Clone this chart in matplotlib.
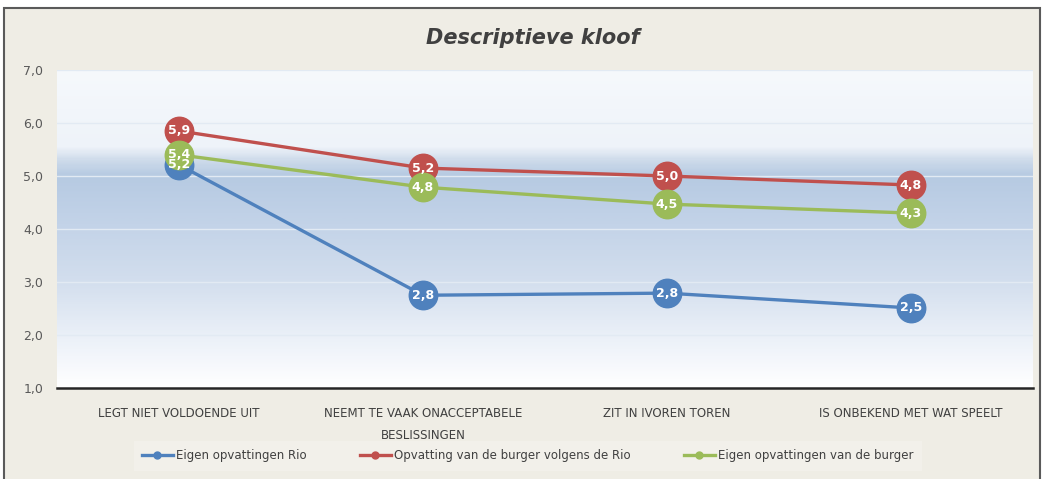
"""Descriptieve kloof - lijngrafiek met drie reeksen."""

import matplotlib
matplotlib.use("Agg")
import matplotlib.pyplot as plt
import numpy as np
from matplotlib.colors import LinearSegmentedColormap
from matplotlib.lines import Line2D
from matplotlib.patches import Rectangle

# Dati
categories = [
    "LEGT NIET VOLDOENDE UIT",
    "NEEMT TE VAAK ONACCEPTABELE\nBESLISSINGEN",
    "ZIT IN IVOREN TOREN",
    "IS ONBEKEND MET WAT SPEELT",
]
series_names = [
    "Eigen opvattingen Rio",
    "Opvatting van de burger volgens de Rio",
    "Eigen opvattingen van de burger",
]
rio_eigen = [5.21, 2.75, 2.79, 2.51]
burger_volgens_rio = [5.85, 5.15, 5.00, 4.83]
burger_eigen = [5.40, 4.79, 4.47, 4.30]
labels_rio = ["5,2", "2,8", "2,8", "2,5"]
labels_volgens = ["5,9", "5,2", "5,0", "4,8"]
labels_burger = ["5,4", "4,8", "4,5", "4,3"]
yticks = [1, 2, 3, 4, 5, 6, 7]

colors = ["#4F81BD", "#C0504D", "#9BBB59"]
bg = "#EFEDE5"
narrow = ["Liberation Sans Narrow", "DejaVu Sans"]

fig = plt.figure(figsize=(10.45, 4.79), dpi=100, facecolor="white")
W, H = 1045, 479

# cornice esterna (dietro agli assi), tagliata in basso
fig.patches.append(Rectangle((4 / W, -0.05), 1036 / W, 1.05 - 8 / H, transform=fig.transFigure,
                             facecolor=bg, edgecolor="#5A5A5A", linewidth=1.5, zorder=-10))

ax = fig.add_axes([57 / W, 1 - 388 / H, (1033 - 57) / W, (388 - 70) / H])
ax.set_xlim(0, 4)
ax.set_ylim(1, 7)

# sfondo sfumato
grad = LinearSegmentedColormap.from_list("bg", [
    (0.00, "#FFFFFF"),
    (0.12, "#F0F4FA"),
    (0.35, "#D1DDED"),
    (0.55, "#C0D1E7"),
    (0.67, "#B6CAE2"),
    (0.72, "#CFDCEB"),
    (0.76, "#EEF3F9"),
    (1.00, "#F6F9FC"),
])
ax.imshow(np.linspace(0, 1, 300).reshape(-1, 1), cmap=grad, aspect="auto",
          extent=(0, 4, 1, 7), origin="lower", zorder=0)

for y in yticks[1:]:
    ax.axhline(y, color="#E2EAF3", linewidth=1.0, zorder=1)

x = np.arange(len(categories)) + 0.5
data = [rio_eigen, burger_volgens_rio, burger_eigen]
labs = [labels_rio, labels_volgens, labels_burger]
for vals, lab, c in zip(data, labs, colors):
    ax.plot(x, vals, color=c, linewidth=2.4, marker="o", markersize=20.5,
            markeredgecolor=c, zorder=3)
    for xi, v, t in zip(x, vals, lab):
        ax.text(xi, v, t, color="white", fontsize=9, fontweight="bold",
                ha="center", va="center", zorder=4)

for s in ["top", "right", "left"]:
    ax.spines[s].set_visible(False)
ax.spines["bottom"].set_color("#262626")
ax.spines["bottom"].set_linewidth(1.8)

ax.set_yticks(yticks)
ax.set_yticklabels([f"{v},0" for v in yticks], color="#595959", fontsize=9)
ax.set_xticks(x)
ax.set_xticklabels(categories, color="#404040", fontsize=8.5, linespacing=1.9,
                   family=narrow)
ax.tick_params(axis="both", length=0)
ax.tick_params(axis="x", pad=14)
ax.tick_params(axis="y", pad=10)

fig.text(0.51, 1 - 38 / H, "Descriptieve kloof", ha="center", va="center",
         fontsize=15, style="italic", fontweight="bold", color="#404040")

handles = [Line2D([0], [0], color=c, linewidth=2.4, marker="o", markersize=5)
           for c in colors]
leg = fig.legend(handles, series_names, loc="center", ncol=3,
                 bbox_to_anchor=(528 / W, 1 - 456 / H), frameon=True,
                 handlelength=2.6, handletextpad=0.3,
                 columnspacing=4.5, borderpad=0.7, borderaxespad=0,
                 prop={"family": narrow, "size": 8.5})
leg.get_frame().set_facecolor("#F4F2EC")
leg.get_frame().set_edgecolor("none")
leg.get_frame().set_boxstyle("square", pad=0)
for t in leg.get_texts():
    t.set_color("#404040")

fig.savefig("out.png", dpi=100, facecolor="white")
